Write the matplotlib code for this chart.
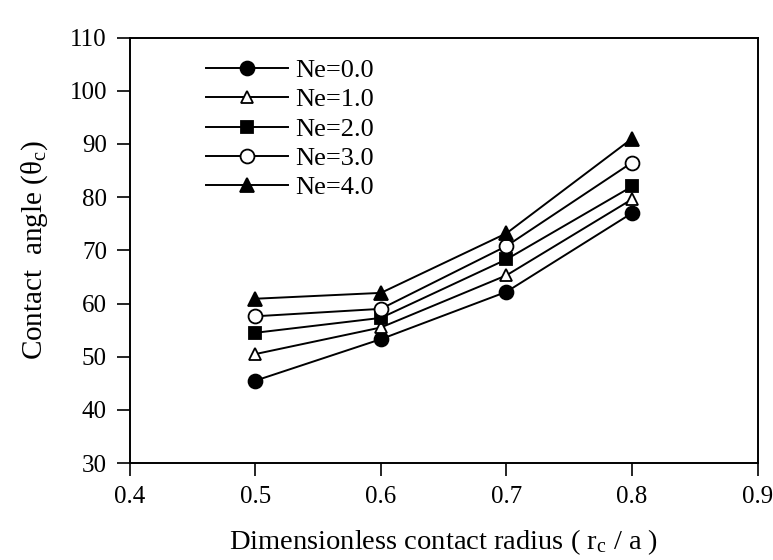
import matplotlib
matplotlib.use('Agg')
import matplotlib.pyplot as plt

# --- Data ---
radius = [0.5, 0.6, 0.7, 0.8]
ne_labels = ['Ne=0.0', 'Ne=1.0', 'Ne=2.0', 'Ne=3.0', 'Ne=4.0']
ne0 = [45.5, 53.3, 62.2, 77.0]
ne1 = [50.5, 55.5, 65.3, 79.6]
ne2 = [54.5, 57.3, 68.3, 82.0]
ne3 = [57.6, 59.0, 70.8, 86.5]
ne4 = [60.9, 62.0, 73.2, 91.0]

x_ticks = [0.4, 0.5, 0.6, 0.7, 0.8, 0.9]
y_ticks = [30, 40, 50, 60, 70, 80, 90, 100, 110]

plt.rcParams['font.family'] = ['Liberation Serif', 'DejaVu Serif']
plt.rcParams['mathtext.fontset'] = 'custom'
plt.rcParams['mathtext.rm'] = 'Liberation Serif'
plt.rcParams['mathtext.it'] = 'Liberation Serif:italic'

fig = plt.figure(figsize=(7.73, 5.6), dpi=100)
ax = fig.add_axes([0.168, 0.173, 0.812, 0.760])

styles = [
    dict(marker='o', mfc='black', ms=10),
    dict(marker='^', mfc='white', ms=9),
    dict(marker='s', mfc='black', ms=9),
    dict(marker='o', mfc='white', ms=10),
    dict(marker='^', mfc='black', ms=10),
]
series = [ne0, ne1, ne2, ne3, ne4]

for vals, lab, st in zip(series, ne_labels, styles):
    ax.plot(radius, vals, color='black', lw=1.4, mec='black', mew=1.3,
            label=lab, **st)

ax.set_xlim(0.4, 0.9)
ax.set_ylim(30, 110)
ax.set_xticks(x_ticks)
ax.set_yticks(y_ticks)
ax.set_xticklabels([f'{v:.1f}' for v in x_ticks])
ax.tick_params(direction='out', length=9.5, width=1.2, labelsize=18,
               top=False, right=False, pad=7)
for sp in ax.spines.values():
    sp.set_linewidth(1.4)

ax.set_xlabel(r'Dimensionless contact radius ( r$_\mathrm{c}$ / a )',
              fontsize=20.5, labelpad=14)
ax.set_ylabel(r'Contact  angle (θ$_\mathrm{c}$)', fontsize=21, labelpad=14)

leg = ax.legend(loc='upper left', bbox_to_anchor=(0.104, 0.975), frameon=False,
                fontsize=19, handlelength=3.1, handletextpad=0.3,
                labelspacing=0.22, borderaxespad=0)

fig.savefig('out.png', dpi=100)
